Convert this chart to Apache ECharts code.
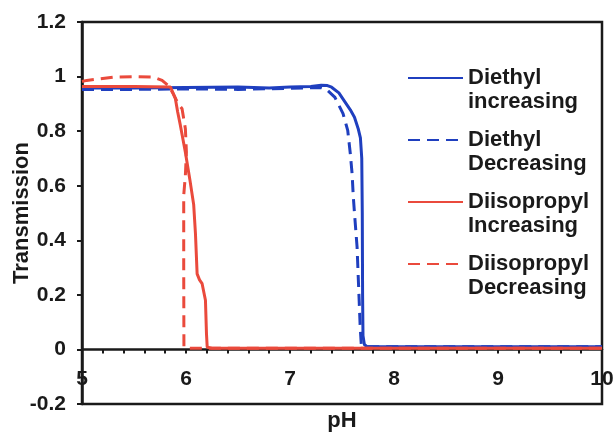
<!DOCTYPE html>
<html>
<head>
<meta charset="utf-8">
<script src="https://cdn.jsdelivr.net/npm/echarts@6/dist/echarts.min.js"></script>
<style>
  html, body { margin: 0; padding: 0; background: #fff; }
  #chart { width: 613px; height: 432px; }
</style>
</head>
<body>
<div id="chart"></div>
<script>
// Transmission vs pH for the diethyl and diisopropyl polymers (up and down sweeps)
const seriesNames = ['Diethyl increasing', 'Diethyl Decreasing', 'Diisopropyl Increasing', 'Diisopropyl Decreasing'];
const legendLabels = ['Diethyl\nincreasing', 'Diethyl\nDecreasing', 'Diisopropyl\nIncreasing', 'Diisopropyl\nDecreasing'];

const diethylIncPH = [5, 5.5, 6, 6.5, 6.8, 7, 7.2, 7.3, 7.36, 7.4, 7.47, 7.52, 7.58, 7.62, 7.655, 7.677, 7.69, 7.695, 7.698, 7.702, 7.715, 7.74, 8, 9, 10];
const diethylIncT  = [0.958, 0.958, 0.96, 0.962, 0.958, 0.962, 0.964, 0.968, 0.967, 0.961, 0.94, 0.912, 0.878, 0.851, 0.81, 0.775, 0.7, 0.5, 0.2, 0.05, 0.018, 0.01, 0.01, 0.01, 0.01];

const diethylDecPH = [5, 5.5, 6, 6.5, 7, 7.3, 7.35, 7.43, 7.51, 7.555, 7.58, 7.597, 7.609, 7.62, 7.645, 7.66, 7.675, 7.685, 7.72, 8, 9, 10];
const diethylDecT  = [0.953, 0.953, 0.955, 0.953, 0.957, 0.96, 0.953, 0.925, 0.864, 0.803, 0.717, 0.644, 0.558, 0.5, 0.375, 0.228, 0.082, 0.02, 0.01, 0.01, 0.01, 0.01];

const diisoIncPH = [5, 5.5, 5.85, 5.898, 5.92, 5.946, 5.994, 6.036, 6.074, 6.091, 6.107, 6.13, 6.155, 6.187, 6.197, 6.204, 6.25, 7, 8, 9, 10];
const diisoIncT  = [0.964, 0.964, 0.962, 0.919, 0.87, 0.821, 0.723, 0.625, 0.53, 0.424, 0.277, 0.255, 0.241, 0.18, 0.057, 0.008, 0.004, 0.004, 0.004, 0.004, 0.004];

const diisoDecPH = [5, 5.045, 5.3, 5.5, 5.69, 5.77, 5.83, 5.88, 5.925, 5.962, 5.994, 6.004, 5.994, 5.978, 5.978, 5.98, 6.0, 7, 8, 9, 10];
const diisoDecT  = [0.982, 0.986, 0.998, 1.0, 0.998, 0.986, 0.967, 0.935, 0.9, 0.882, 0.809, 0.723, 0.638, 0.564, 0.3, 0.01, 0.004, 0.004, 0.004, 0.004, 0.004];

const BLUE = '#1f3fbf';
const RED = '#ea4a3c';
const FONT = '"Liberation Sans", Arial, Helvetica, sans-serif';
const INK = '#1a1a1a';

function pairs(xs, ys) { return xs.map((x, i) => [x, ys[i]]); }

function lineSeries(name, xs, ys, color, dashed) {
  return {
    name: name,
    type: 'line',
    data: pairs(xs, ys),
    symbol: 'none',
    smooth: false,
    lineStyle: { color: color, width: 3, type: dashed ? [12, 7] : 'solid' },
    itemStyle: { color: color },
    emphasis: { disabled: true },
    animation: false
  };
}

const chart = echarts.init(document.getElementById('chart'), null, { renderer: 'canvas' });
chart.setOption({
  backgroundColor: '#fff',
  animation: false,
  grid: {
    left: 82, right: 11, top: 22, bottom: 28,
    outerBoundsMode: 'none',
    containLabel: false,
    show: true, borderColor: INK, borderWidth: 2.5, backgroundColor: 'transparent'
  },
  legend: {
    orient: 'vertical',
    left: 407,
    top: 42,
    padding: 0,
    itemGap: -10,
    itemWidth: 55,
    itemHeight: 14,
    data: seriesNames,
    // keep only the line sample, no marker in the key
    itemStyle: { color: 'rgba(0,0,0,0)', borderColor: 'rgba(0,0,0,0)', borderWidth: 0, opacity: 0 },
    formatter: function (name) {
      return ' \n' + legendLabels[seriesNames.indexOf(name)];
    },
    textStyle: { fontFamily: FONT, fontWeight: 'bold', fontSize: 22, lineHeight: 24, color: INK }
  },
  xAxis: {
    type: 'value',
    min: 5, max: 10, interval: 1,
    name: 'pH',
    nameLocation: 'middle',
    nameGap: 6,
    nameMoveOverlap: false,
    nameTextStyle: { fontFamily: FONT, fontWeight: 'bold', fontSize: 22, color: INK },
    axisLine: { onZero: true, lineStyle: { color: INK, width: 2.5 } },
    axisTick: { show: true, length: 4, lineStyle: { color: INK, width: 2 } },
    minorTick: { show: true, splitNumber: 5, length: 4, lineStyle: { color: INK, width: 2 } },
    splitLine: { show: false },
    axisLabel: { fontFamily: FONT, fontWeight: 'bold', fontSize: 21, color: INK, margin: -35 }
  },
  yAxis: {
    type: 'value',
    min: -0.2, max: 1.2, interval: 0.2,
    name: 'Transmission',
    nameLocation: 'middle',
    nameGap: 49,
    nameMoveOverlap: false,
    nameTextStyle: { fontFamily: FONT, fontWeight: 'bold', fontSize: 22, color: INK },
    axisLine: { show: true, lineStyle: { color: INK, width: 2.5 } },
    axisTick: { show: true, length: 5, lineStyle: { color: INK, width: 2 } },
    splitLine: { show: false },
    axisLabel: { fontFamily: FONT, fontWeight: 'bold', fontSize: 21, color: INK, margin: 16 }
  },
  series: [
    lineSeries(seriesNames[0], diethylIncPH, diethylIncT, BLUE, false),
    lineSeries(seriesNames[1], diethylDecPH, diethylDecT, BLUE, true),
    lineSeries(seriesNames[2], diisoIncPH, diisoIncT, RED, false),
    lineSeries(seriesNames[3], diisoDecPH, diisoDecT, RED, true)
  ]
});
</script>
</body>
</html>
